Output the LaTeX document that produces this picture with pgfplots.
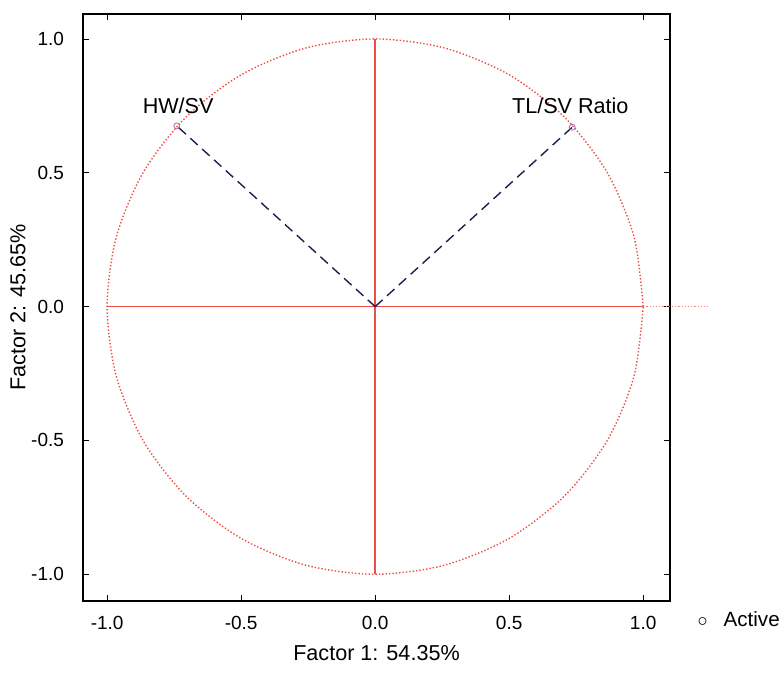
\documentclass[border=0pt]{standalone}
\usepackage{pgfplots}
\pgfplotsset{compat=1.18}
\usepackage{fontspec}
\setmainfont{Liberation Sans}
\definecolor{circred}{RGB}{235,80,70}
\definecolor{vecblue}{RGB}{30,30,80}
\begin{document}
\begin{tikzpicture}[x=1pt,y=1pt]
\begin{axis}[
  scale only axis,
  width=293.5pt, height=293.5pt,
  xmin=-1.09, xmax=1.10, ymin=-1.10, ymax=1.093,
  xtick={-1,-0.5,0,0.5,1}, ytick={-1,-0.5,0,0.5,1},
  xticklabels={-1.0,-0.5,0.0,0.5,1.0},
  yticklabels={-1.0,-0.5,0.0,0.5,1.0},
  tick style={black, thin},
  major tick length=3pt,
  axis line style={black, line width=0.8pt},
  tick label style={font=\fontsize{9.5}{11}\selectfont},
  xticklabel style={yshift=-4pt},
  yticklabel style={xshift=-6pt},
  xlabel={Factor 1: 54.35\%},
  ylabel={Factor 2: 45.65\%},
  label style={font=\fontsize{10.8}{12}\selectfont},
  xlabel style={yshift=-1pt},
  ylabel style={yshift=-4pt},
  clip=false,
]
\coordinate (bl) at (rel axis cs:-0.1414,-0.1227);
\coordinate (tr) at (rel axis cs:1.1908,1.0239);
% unit circle
\addplot[draw=circred, densely dotted, line width=0.7pt, smooth] coordinates {
(1.000,0.000)(0.966,0.259)(0.866,0.500)(0.707,0.707)(0.500,0.866)(0.259,0.966)(0.000,1.000)
(-0.259,0.966)(-0.500,0.866)(-0.707,0.707)(-0.866,0.500)(-0.966,0.259)(-1.000,0.000)
(-0.966,-0.259)(-0.866,-0.500)(-0.707,-0.707)(-0.500,-0.866)(-0.259,-0.966)(0.000,-1.000)
(0.259,-0.966)(0.500,-0.866)(0.707,-0.707)(0.866,-0.500)(0.966,-0.259)(1.000,0.000)};
% axes lines
\addplot[draw=circred, solid, line width=0.7pt] coordinates {(-1,0)(1,0)};
\addplot[draw=circred!70!white, densely dotted, line width=0.6pt] coordinates {(1,0)(1.24,0)};
\addplot[draw=circred, solid, line width=1.1pt] coordinates {(0,-1)(0,1)};
% vectors
\addplot[draw=vecblue, dash pattern=on 5pt off 3pt, line width=0.7pt] coordinates {(0,0)(-0.74,0.675)};
\addplot[draw=vecblue, dash pattern=on 5pt off 3pt, line width=0.7pt] coordinates {(0,0)(0.735,0.67)};
\addplot[only marks, mark=o, mark size=1.5pt, violet!60!white] coordinates {(-0.74,0.675)(0.735,0.67)};
\node[anchor=south, font=\fontsize{10.8}{12}\selectfont] at (axis cs:-0.735,0.695) {HW/SV};
\node[anchor=south, font=\fontsize{10.8}{12}\selectfont] at (axis cs:0.728,0.695) {TL/SV Ratio};
% legend
\node[font=\fontsize{10.3}{12}\selectfont, anchor=west] at (rel axis cs:1.035,-0.03) {$\circ$\hspace{8pt}Active};
\end{axis}
\pgfresetboundingbox
\path[use as bounding box] (bl) rectangle (tr);
\end{tikzpicture}
\end{document}
